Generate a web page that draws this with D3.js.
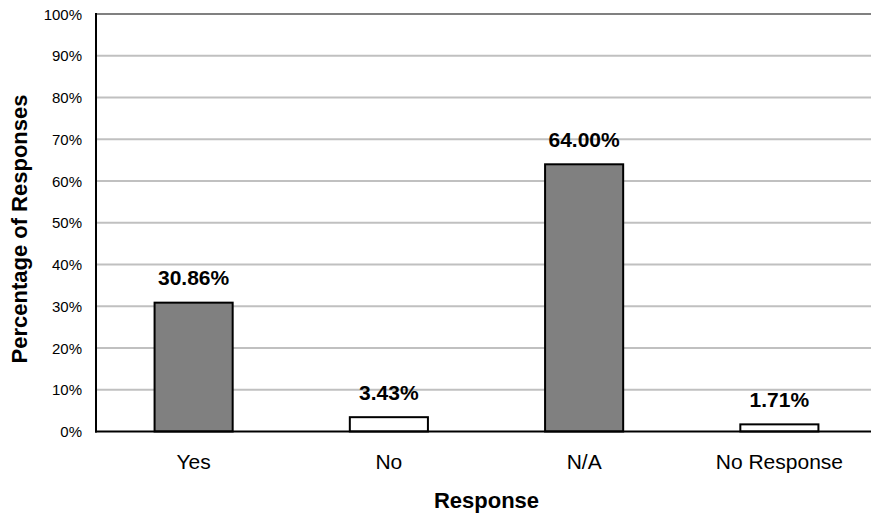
<!DOCTYPE html>
<html><head><meta charset="utf-8">
<script src="https://cdn.jsdelivr.net/npm/d3@7"></script>
<style>body{margin:0;background:#fff;} text{font-family:"Liberation Sans",Arial,sans-serif;}</style>
</head><body>
<svg id="c" width="871" height="517"></svg>
<script>
const categories = ["Yes", "No", "N/A", "No Response"];
const values = [30.86, 3.43, 64.00, 1.71];
const fills = ["#808080", "#ffffff", "#808080", "#ffffff"];
const yTicks = [0,10,20,30,40,50,60,70,80,90,100];

const svg = d3.select("#c");
const L = 96, R = 877, T = 14, B = 431.5;
const x = d3.scaleBand().domain(categories).range([L, R]).paddingInner(0.6).paddingOuter(0.3);
const y = d3.scaleLinear().domain([0, 100]).range([B, T]);
const FF = "Liberation Sans, Arial, sans-serif";

// gridlines
svg.append("g").selectAll("line").data(yTicks.filter(d => d > 0)).join("line")
  .attr("x1", L).attr("x2", 871).attr("y1", d => y(d)).attr("y2", d => y(d))
  .attr("stroke", d => d === 100 ? "#808080" : "#c0c0c0").attr("stroke-width", 2);

// y axis
const yAxis = d3.axisLeft(y).tickValues(yTicks).tickFormat(d => d + "%").tickSize(0).tickPadding(14);
const ga = svg.append("g").attr("transform", `translate(${L},0)`).call(yAxis);
ga.select(".domain").remove();
ga.selectAll("text").attr("font-size", 15).attr("fill", "#000").attr("font-family", FF).attr("dy", "0.34em");

// bars
svg.append("g").selectAll("rect").data(categories).join("rect")
  .attr("x", d => x(d)).attr("width", x.bandwidth())
  .attr("y", (d, i) => y(values[i])).attr("height", (d, i) => B - y(values[i]))
  .attr("fill", (d, i) => fills[i]).attr("stroke", "#000").attr("stroke-width", 2);

// value labels
svg.append("g").selectAll("text").data(categories).join("text")
  .attr("x", d => x(d) + x.bandwidth() / 2).attr("y", (d, i) => y(values[i]) - 17.5)
  .attr("text-anchor", "middle").attr("font-size", 21).attr("font-weight", "bold")
  .text((d, i) => values[i].toFixed(2) + "%");

// axis lines
svg.append("line").attr("x1", L).attr("x2", L).attr("y1", T - 1).attr("y2", B + 1).attr("stroke", "#000").attr("stroke-width", 2);
svg.append("line").attr("x1", L - 1).attr("x2", 871).attr("y1", B).attr("y2", B).attr("stroke", "#000").attr("stroke-width", 2);

// x axis labels
const xAxis = d3.axisBottom(x).tickSize(0);
const gx = svg.append("g").attr("transform", `translate(0,${B})`).call(xAxis);
gx.select(".domain").remove();
gx.selectAll("text").attr("font-size", 21).attr("fill", "#000").attr("font-family", FF)
  .attr("y", 37.5).attr("dy", 0);

// titles
svg.append("text").attr("x", (L + R) / 2).attr("y", 508).attr("text-anchor", "middle")
  .attr("font-size", 22).attr("font-weight", "bold").text("Response");
svg.append("text").attr("transform", `translate(27,229) rotate(-90)`).attr("text-anchor", "middle")
  .attr("font-size", 22).attr("font-weight", "bold").text("Percentage of Responses");
</script>
</body></html>
